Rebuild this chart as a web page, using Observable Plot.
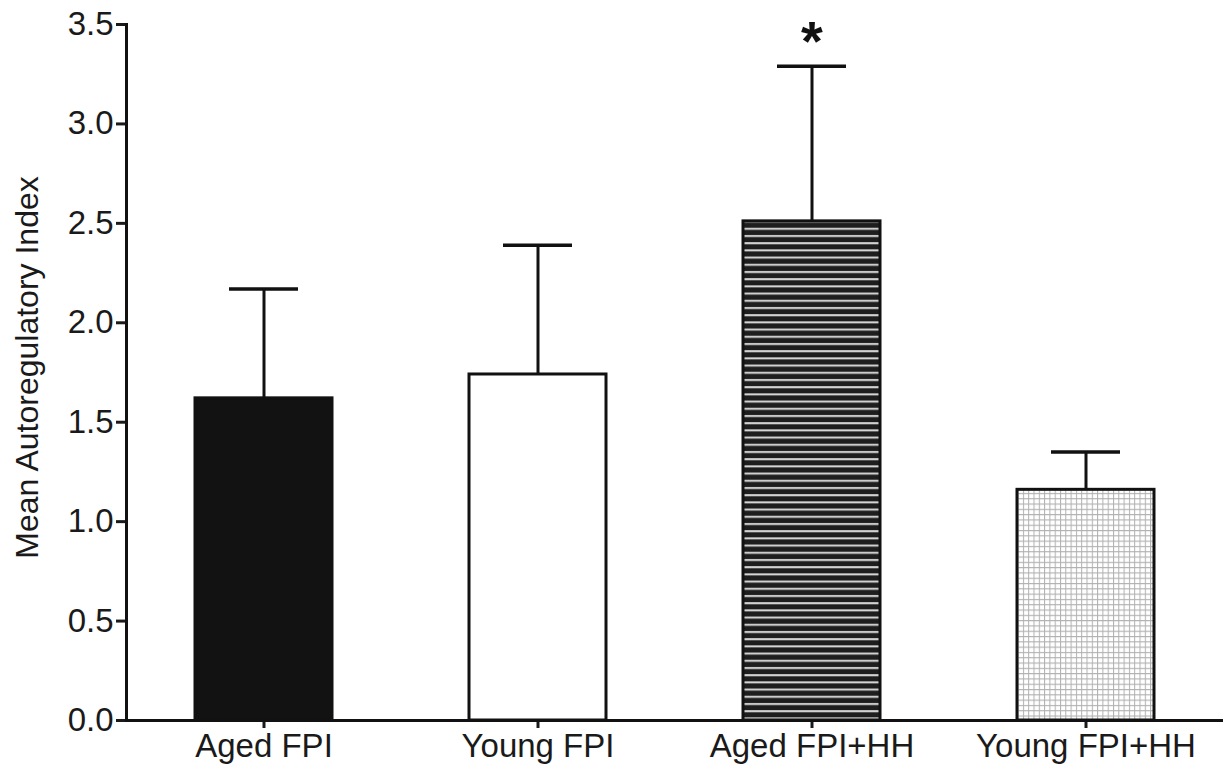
<!DOCTYPE html>
<html><head><meta charset="utf-8">
<script src="https://cdn.jsdelivr.net/npm/d3@7"></script>
<script src="https://cdn.jsdelivr.net/npm/@observablehq/plot@0.6"></script>
<style>body{margin:0;background:#fff}</style>
</head><body><div id="chart"></div>
<script>
const groups = ["Aged FPI", "Young FPI", "Aged FPI+HH", "Young FPI+HH"];
const means = [1.62, 1.74, 2.51, 1.16];
const sems = [0.55, 0.65, 0.78, 0.19];
const significance = ["", "", "*", ""];
const yTicks = [0, 0.5, 1.0, 1.5, 2.0, 2.5, 3.0, 3.5];
const yLabel = "Mean Autoregulatory Index";

const fills = {
  "Aged FPI": "#121212",
  "Young FPI": "#ffffff",
  "Aged FPI+HH": "url(#hstripes)",
  "Young FPI+HH": "url(#finegrid)"
};
const data = groups.map((g, i) => ({group: g, mean: means[i], upper: means[i] + sems[i], sig: significance[i]}));
const font = "'Liberation Sans', Arial, Helvetica, sans-serif";

const chart = Plot.plot({
  width: 1230, height: 770,
  marginLeft: 126, marginRight: 7, marginTop: 24, marginBottom: 50,
  style: {fontFamily: font, fontSize: "33px", color: "#1a1a1a", background: "#fff", overflow: "visible"},
  x: {domain: groups, paddingInner: 0.5, paddingOuter: 0.25, label: null},
  y: {domain: [0, 3.5], label: null},
  color: {type: "identity"},
  marks: [
    Plot.barY(data, {x: "group", y: "mean", fill: d => fills[d.group], stroke: "#111", strokeWidth: 3}),
    Plot.ruleX(data, {x: "group", y1: "mean", y2: "upper", stroke: "#111", strokeWidth: 3}),
    Plot.tickY(data, {x: "group", y: "upper", insetLeft: 34, insetRight: 34, stroke: "#111", strokeWidth: 3.5}),
    Plot.text(data, {x: "group", y: "upper", text: "sig", dy: -24, fontSize: 56, fontWeight: "bold", fill: "#111"}),
    Plot.axisY({ticks: yTicks, tickFormat: d3.format(".1f"), tickSize: 10, tickPadding: 3, strokeWidth: 3, fontSize: 33, label: null}),
    Plot.axisX({tickSize: 8, tickPadding: 5, strokeWidth: 3, fontSize: 33, label: null}),
    Plot.frame({anchor: "left", stroke: "#111", strokeWidth: 3}),
    Plot.ruleY([0], {stroke: "#111", strokeWidth: 3}),
    Plot.text([yLabel], {frameAnchor: "left", text: d => d, rotate: -90, textAnchor: "middle", dx: -99, dy: -5, fontSize: 32, fill: "#1a1a1a"})
  ]
});

const svg = d3.select(chart.tagName.toLowerCase() === "svg" ? chart : chart.querySelector("svg"));
const defs = svg.insert("defs", ":first-child");
const ps = defs.append("pattern").attr("id", "hstripes").attr("patternUnits", "userSpaceOnUse")
  .attr("width", 10).attr("height", 7.2);
ps.append("rect").attr("width", 10).attr("height", 7.2).attr("fill", "#1e1e1e");
ps.append("rect").attr("y", 4.6).attr("width", 10).attr("height", 2).attr("fill", "#d8d8d8");
const pg = defs.append("pattern").attr("id", "finegrid").attr("patternUnits", "userSpaceOnUse")
  .attr("width", 5.3).attr("height", 5.3);
pg.append("rect").attr("width", 5.3).attr("height", 5.3).attr("fill", "#fff");
pg.append("path").attr("d", "M0,0.5H5.3M0.5,0V5.3").attr("stroke", "#b0b0b0").attr("stroke-width", 1).attr("fill", "none");

document.getElementById("chart").appendChild(chart);
</script>
</body></html>
